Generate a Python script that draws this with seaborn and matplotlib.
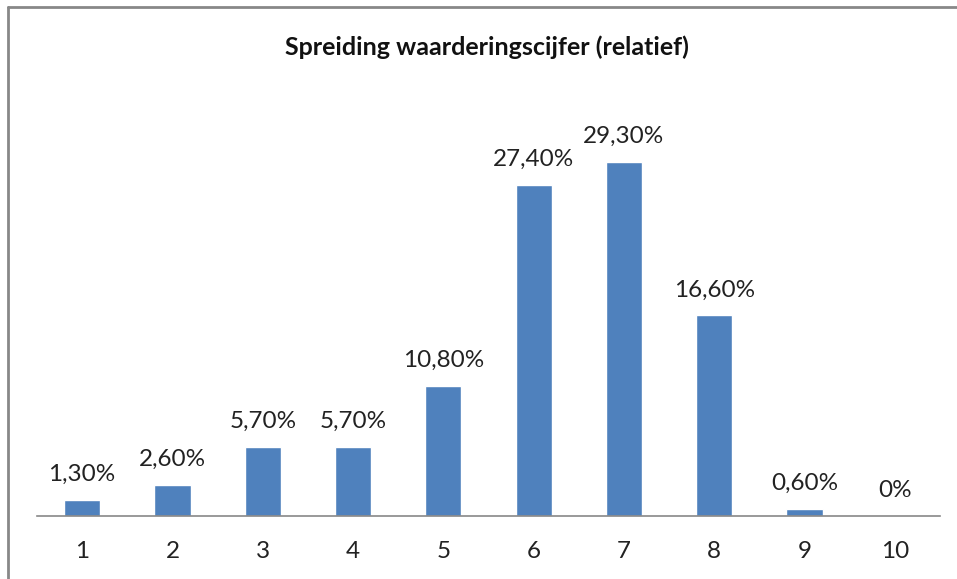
import matplotlib
matplotlib.use("Agg")
import matplotlib.pyplot as plt
from matplotlib.lines import Line2D
import seaborn as sns
import pandas as pd

cijfers = ["1", "2", "3", "4", "5", "6", "7", "8", "9", "10"]
percentages = [1.3, 2.6, 5.7, 5.7, 10.8, 27.4, 29.3, 16.6, 0.6, 0.0]
labels = ["1,30%", "2,60%", "5,70%", "5,70%", "10,80%", "27,40%", "29,30%", "16,60%", "0,60%", "0%"]

df = pd.DataFrame({"cijfer": cijfers, "pct": percentages})

sns.set_style("white")
plt.rcParams["font.family"] = ["Lato", "DejaVu Sans"]

W, H = 957, 579
fig = plt.figure(figsize=(W / 100, H / 100), dpi=100)
# plot area in pixel terms: x 37..940, baseline y 516, 30% at y 153.6
ax = fig.add_axes([37 / W, 1 - 516 / H, (940 - 37) / W, (516 - 153.6) / H])

sns.barplot(data=df, x="cijfer", y="pct", color="#4F81BD", saturation=1,
            width=0.4, ax=ax)
ax.set_ylim(0, 30)
ax.set_xlim(-0.5, 9.5)

for i, (v, lab) in enumerate(zip(percentages, labels)):
    ax.text(i, v + 1.25, lab, ha="center", va="bottom", fontsize=17.5,
            color="#222222", clip_on=False)

for s in ["top", "right", "left"]:
    ax.spines[s].set_visible(False)
ax.spines["bottom"].set_color("#888888")
ax.spines["bottom"].set_linewidth(1.2)
ax.set_yticks([])
ax.set_xlabel("")
ax.set_ylabel("")
ax.tick_params(axis="x", length=0, labelsize=17.5, pad=18, colors="#222222")

fig.text(487 / W, 1 - 47 / H, "Spreiding waarderingscijfer (relatief)",
         ha="center", va="center", fontsize=18, fontweight="bold", color="#111111")

# chart frame (only top and left edges visible in the crop)
fig.add_artist(Line2D([8 / W, 8 / W], [0, 1 - 7 / H], transform=fig.transFigure,
                      color="#888888", lw=2))
fig.add_artist(Line2D([8 / W, 1], [1 - 7 / H, 1 - 7 / H], transform=fig.transFigure,
                      color="#888888", lw=2))

fig.savefig("out.png", dpi=100)
